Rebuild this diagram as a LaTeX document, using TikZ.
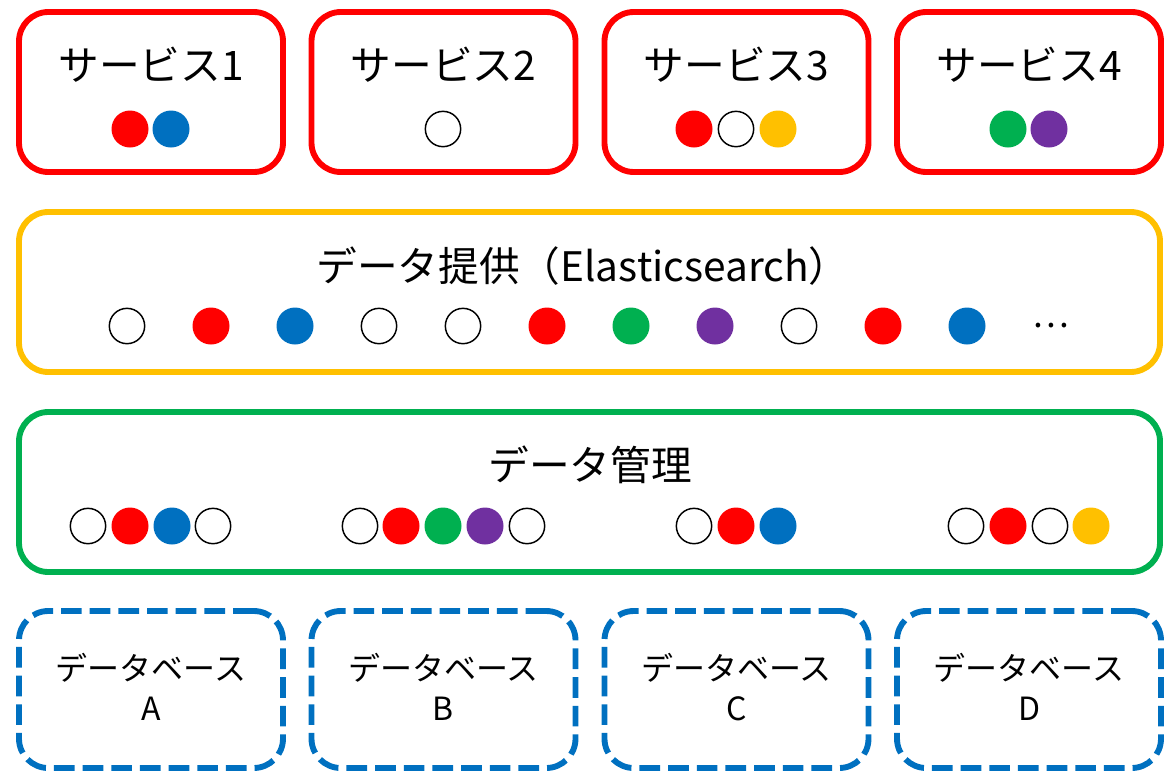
\documentclass[tikz,border=0pt]{standalone}
\usepackage{fontspec}
\setmainfont{Noto Sans CJK JP}
\definecolor{cred}{HTML}{FF0000}
\definecolor{cblue}{HTML}{0070C0}
\definecolor{cyel}{HTML}{FFC000}
\definecolor{cgrn}{HTML}{00B050}
\definecolor{cpur}{HTML}{7030A0}
\begin{document}
\begin{tikzpicture}[x=0.75pt,y=-0.75pt,
  frame/.style={line width=4.4pt, rounded corners=22pt, minimum width=198pt, inner sep=0pt},
  svc/.style={frame, draw=cred, minimum height=120pt},
  wide/.style={frame, minimum width=855.75pt, minimum height=120pt},
  dbbox/.style={frame, draw=cblue, dash pattern=on 15.5pt off 6pt, minimum height=117.75pt},
  dotbase/.style={circle, inner sep=0pt, minimum size=27.75pt},
  wdot/.style={dotbase, draw=black, line width=1.1pt, minimum size=26.5pt, fill=white},
  rdot/.style={dotbase, fill=cred},
  bdot/.style={dotbase, fill=cblue},
  ydot/.style={dotbase, fill=cyel},
  gdot/.style={dotbase, fill=cgrn},
  pdot/.style={dotbase, fill=cpur},
  title/.style={anchor=base, inner sep=0pt, font=\fontsize{30.5}{36}\selectfont},
  dbtext/.style={anchor=base, inner sep=0pt, font=\fontsize{24}{29}\selectfont}]
\useasboundingbox (0,0) rectangle (1175,775);
% service boxes
\node[svc] (s1) at (151,92) {};
\node[svc] (s2) at (443.5,92) {};
\node[svc] (s3) at (736.5,92) {};
\node[svc] (s4) at (1029,92) {};
\node[title] (t1) at (151,80) {サービス1};
\node[title] (t2) at (443.5,80) {サービス2};
\node[title] (t3) at (736.5,80) {サービス3};
\node[title] (t4) at (1029,80) {サービス4};
\node[rdot] (s1a) at (130,129) {};
\node[bdot] (s1b) at (171,129) {};
\node[wdot] (s2a) at (443,129) {};
\node[rdot] (s3a) at (694,129) {};
\node[wdot] (s3b) at (736,129) {};
\node[ydot] (s3c) at (778,129) {};
\node[gdot] (s4a) at (1008,129) {};
\node[pdot] (s4b) at (1049,129) {};
% elasticsearch
\node[wide, draw=cyel] (el) at (589.5,292) {};
\node[title] (elt) at (583,281) {データ提供（Elasticsearch）};
\foreach \c [count=\i from 0] in {wdot,rdot,bdot,wdot,wdot,rdot,gdot,pdot,wdot,rdot,bdot}
  \node[\c] (e\i) at ({127+84*\i},326) {};
\node[anchor=center, inner sep=0pt, font=\fontsize{26}{30}\selectfont] (edots) at (1051,326) {…};
% data management
\node[wide, draw=cgrn] (dm) at (589.5,492) {};
\node[title] (dmt) at (590,480) {データ管理};
\foreach \x/\c [count=\i] in {88/wdot,130/rdot,172/bdot,213/wdot,
    360/wdot,401/rdot,443/gdot,485/pdot,527/wdot,
    694/wdot,736/rdot,778/bdot,
    966/wdot,1008/rdot,1050/wdot,1091/ydot}
  \node[\c] (m\i) at (\x,526) {};
% databases
\node[dbbox] (d1) at (151,689.5) {};
\node[dbbox] (d2) at (443.5,689.5) {};
\node[dbbox] (d3) at (736.5,689.5) {};
\node[dbbox] (d4) at (1029,689.5) {};
\foreach \n/\x/\l in {1/151/A,2/443.5/B,3/736.5/C,4/1029/D}{
  \node[dbtext] (dl\n) at (\x,680) {データベース};
  \node[dbtext] (dn\n) at (\x,720) {\l};
}
\end{tikzpicture}
\end{document}
